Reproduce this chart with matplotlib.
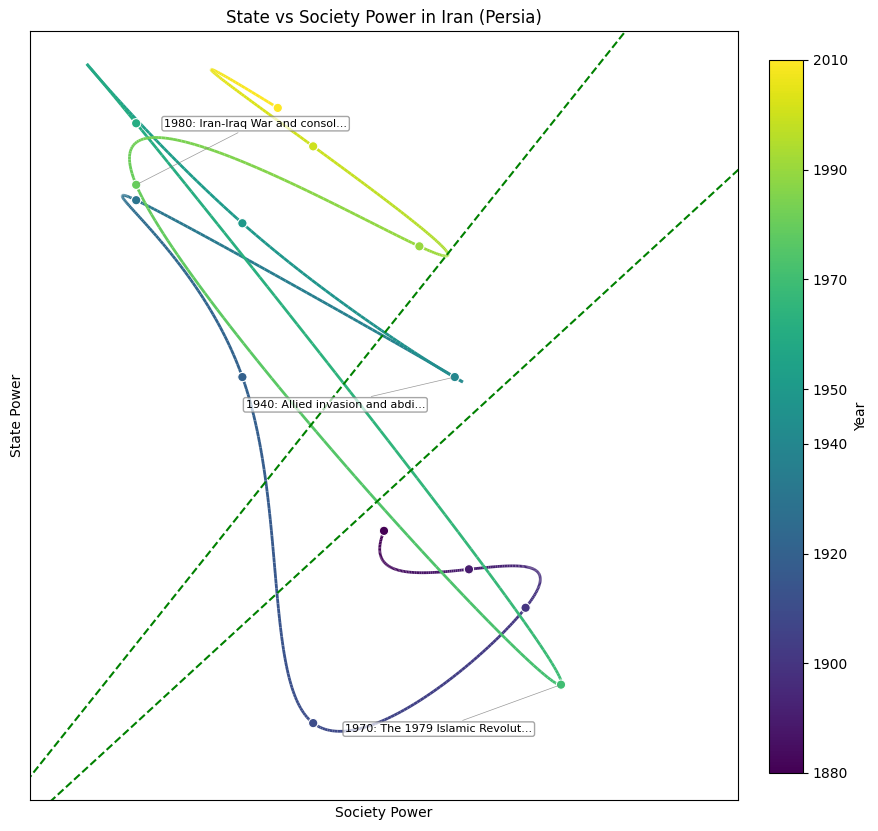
import numpy as np
import matplotlib
matplotlib.use("Agg")
import matplotlib.pyplot as plt
from matplotlib.collections import LineCollection

# decade snapshots (society power, state power)
years = [1880, 1890, 1900, 1910, 1920, 1930, 1940, 1950, 1960, 1970, 1980, 1990, 2000, 2010]
society = [50, 62, 70, 40, 30, 15, 60, 30, 15, 75, 15, 55, 40, 35]
state = [35, 30, 25, 10, 55, 78, 55, 75, 88, 15, 80, 72, 85, 90]

events = {
    1940: "1940: Allied invasion and abdi...",
    1970: "1970: The 1979 Islamic Revolut...",
    1980: "1980: Iran-Iraq War and consol...",
}
# label offsets in points
event_offsets = {1940: (-86, -20), 1970: (-88, -32), 1980: (86, 44)}

cbar_ticks = [1880, 1900, 1920, 1940, 1950, 1970, 1990, 2010]

# dashed reference lines: (slope, intercept)
ref_lines = [(1.153, 3.0), (0.8455, -2.63)]


def cubic_spline(t, y, tn):
    """not-a-knot cubic spline, numpy only"""
    t = np.asarray(t, float)
    y = np.asarray(y, float)
    n = len(t)
    h = np.diff(t)
    A = np.zeros((n, n))
    b = np.zeros(n)
    # second derivatives M
    for i in range(1, n - 1):
        A[i, i - 1] = h[i - 1]
        A[i, i] = 2 * (h[i - 1] + h[i])
        A[i, i + 1] = h[i]
        b[i] = 6 * ((y[i + 1] - y[i]) / h[i] - (y[i] - y[i - 1]) / h[i - 1])
    A[0, 0], A[0, 1], A[0, 2] = h[1], -(h[0] + h[1]), h[0]
    A[-1, -3], A[-1, -2], A[-1, -1] = h[-1], -(h[-2] + h[-1]), h[-2]
    M = np.linalg.solve(A, b)
    idx = np.clip(np.searchsorted(t, tn) - 1, 0, n - 2)
    t0, t1 = t[idx], t[idx + 1]
    hh = t1 - t0
    a = (t1 - tn) / hh
    c = (tn - t0) / hh
    return (a * y[idx] + c * y[idx + 1]
            + ((a ** 3 - a) * M[idx] + (c ** 3 - c) * M[idx + 1]) * hh ** 2 / 6)


yr = np.array(years, float)
t_fine = np.linspace(yr[0], yr[-1], 1000)
xs = cubic_spline(yr, society, t_fine)
ys = cubic_spline(yr, state, t_fine)

fig = plt.figure(figsize=(8.79, 8.31), dpi=100)
ax = fig.add_axes([0.0341, 0.0373, 0.8055, 0.9254])
cax = fig.add_axes([0.8749, 0.0698, 0.0387, 0.858])

norm = plt.Normalize(yr[0], yr[-1])
pts = np.column_stack([xs, ys]).reshape(-1, 1, 2)
segs = np.concatenate([pts[:-1], pts[1:]], axis=1)
lc = LineCollection(segs, cmap="viridis", norm=norm, linewidth=2)
lc.set_array((t_fine[:-1] + t_fine[1:]) / 2)
ax.add_collection(lc)

sc = ax.scatter(society, state, c=years, cmap="viridis", norm=norm,
                s=45, edgecolors="white", linewidths=0.8, zorder=3)

xline = np.linspace(-10, 110, 10)
for m, c in ref_lines:
    ax.plot(xline, m * xline + c, ls="--", color="green", lw=1.5)

for yv, txt in events.items():
    i = years.index(yv)
    ax.annotate(txt, xy=(society[i], state[i]), xytext=event_offsets[yv],
                textcoords="offset points", ha="center", va="center", fontsize=8,
                bbox=dict(boxstyle="round,pad=0.2", fc="white", ec="gray", alpha=0.7),
                arrowprops=dict(arrowstyle="-", color="gray", lw=0.5, alpha=0.8))

ax.set_xlim(0, 100)
ax.set_ylim(0, 100)
ax.set_xticks([])
ax.set_yticks([])
ax.set_xlabel("Society Power")
ax.set_ylabel("State Power")
ax.set_title("State vs Society Power in Iran (Persia)")

cb = fig.colorbar(sc, cax=cax, ticks=cbar_ticks)
cb.set_label("Year")

fig.savefig("out.png", dpi=100)
